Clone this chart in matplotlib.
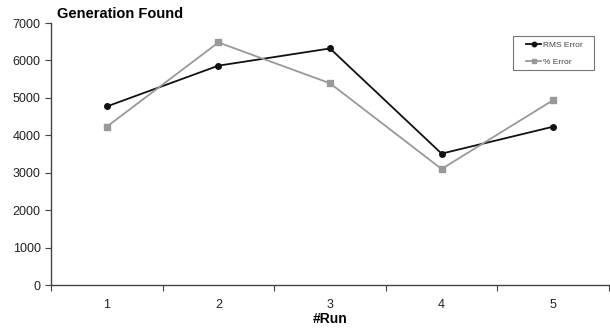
import matplotlib
matplotlib.use("Agg")
import matplotlib.pyplot as plt
from matplotlib.patches import Rectangle
import numpy as np

# data
runs = ["1", "2", "3", "4", "5"]
rms_error = [4770, 5860, 6320, 3510, 4230]
pct_error = [4230, 6480, 5390, 3100, 4940]
y_ticks = [0, 1000, 2000, 3000, 4000, 5000, 6000, 7000]

plt.rcParams['font.family'] = ['Liberation Sans', 'DejaVu Sans']

fig = plt.figure(figsize=(6.10, 3.32), dpi=100)
ax = fig.add_axes([51/610, 1-285/332, 558/610, 262/332])

x = np.arange(len(runs))
ax.plot(x, rms_error, color='#111111', lw=1.3, marker='o', markersize=4,
        label='RMS Error')
ax.plot(x, pct_error, color='#999999', lw=1.3, marker='s', markersize=4,
        label='% Error')

ax.set_xlim(-0.5, len(runs) - 0.5)
ax.set_ylim(0, 7000)
ax.set_yticks(y_ticks)
ax.set_yticklabels([str(v) for v in y_ticks], fontsize=9, color='#222222')

# tick marks between categories, labels at category centres
ax.set_xticks(np.arange(len(runs) + 1) - 0.5)
ax.set_xticklabels([])
ax.set_xticks(x, minor=True)
ax.set_xticklabels(runs, minor=True, fontsize=9, color='#222222')
ax.tick_params(axis='x', which='minor', length=0, pad=10)
ax.tick_params(axis='both', which='major', length=4, color='#444444', direction='out')

for s in ['top', 'right']:
    ax.spines[s].set_visible(False)
for s in ['left', 'bottom']:
    ax.spines[s].set_color('#444444')
    ax.spines[s].set_linewidth(1.0)

ax.set_xlabel('#Run', fontsize=10, fontweight='bold', labelpad=1)

fig.text(57/610, 1-14.5/332, 'Generation Found', fontsize=10.5,
         fontweight='bold', va='center', ha='left')

# legend without its own frame, box drawn separately (wide side padding)
leg = fig.legend(loc='upper left', bbox_to_anchor=(526/610, 1-41/332),
                 fontsize=6, frameon=False, handlelength=1.8,
                 handletextpad=0.2, borderpad=0, borderaxespad=0,
                 labelspacing=1.15, markerscale=0.8)
for t in leg.get_texts():
    t.set_color('#444444')
fig.patches.append(Rectangle((513/610, 1-70/332), 81/610, 34/332,
                             transform=fig.transFigure, fill=False,
                             edgecolor='#777777', linewidth=0.8))

fig.savefig('out.png', dpi=100)
